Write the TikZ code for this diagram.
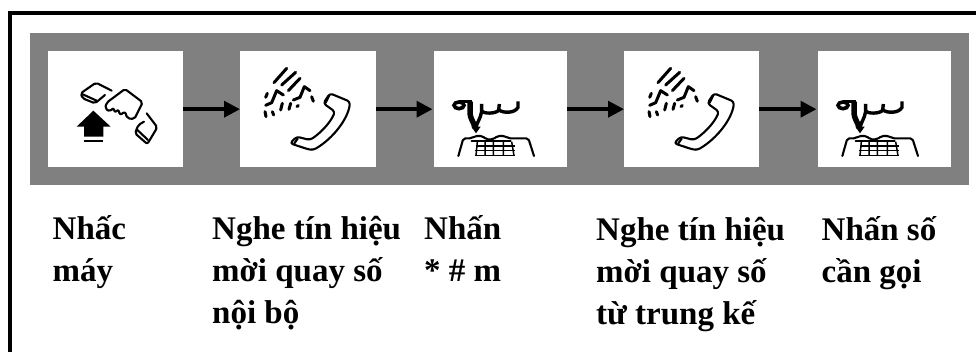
\documentclass[tikz,border=0pt]{standalone}
\usepackage{fontspec}
\setmainfont{Liberation Serif}
\usetikzlibrary{arrows.meta}
\definecolor{panelgray}{HTML}{808080}
\tikzset{
  panelbox/.style={fill=panelgray,draw=none,inner sep=0pt,minimum width=939pt,minimum height=152pt,anchor=north west},
  iconbox/.style={fill=white,draw=none,inner sep=0pt,minimum height=116pt,anchor=north west},
  flow/.style={line width=3.6pt,-{Triangle[length=16pt,width=16pt]}},
  steplabel/.style={anchor=north west,inner sep=0pt,align=left,font=\fontsize{33}{42}\selectfont\bfseries},
  ink/.style={line width=2.1pt,line join=round,line cap=round,black},
  inkthick/.style={line width=3pt,line join=round,line cap=round,black},
  inkgrid/.style={line width=1.5pt,black},
  pics/offhook/.style={code={
    \draw[ink,rounded corners=2pt] (125,62) -- (78,38) -- (32,70) -- (38,85) -- (75,100) -- (105,75);
    \draw[ink] (36,72) -- (80,92);
    \draw[ink,rounded corners=2pt] (165,57) -- (218,97) -- (193,147) -- (172,145) -- (165,125) -- (150,135) -- (145,118) -- (135,128) -- (130,113) -- (120,125) -- (105,115) -- (110,98) -- cycle;
    \draw[ink,rounded corners=2pt] (230,130) -- (262,172) -- (232,222) -- (195,190) -- (205,165) -- (222,155);
    \draw[ink] (200,178) -- (234,210);
    \fill (70,122) -- (122,170) -- (100,170) -- (100,200) -- (42,200) -- (42,170) -- (20,170) -- cycle;
    \fill (42,209) rectangle (100,216);
  }},
  pics/ringing/.style={code={
    \draw[ink,rounded corners=3pt] (225,100) -- (285,125) .. controls (280,175) and (235,235) .. (175,270) -- (160,268) -- (105,250) -- (125,230) -- (165,240) .. controls (195,220) and (225,190) .. (240,155) -- (205,130) -- cycle;
    \draw[ink] (222,108) -- (212,128);
    \draw[ink] (128,236) -- (118,250);
    \draw[inkthick] (57,68) -- (95,25);
    \draw[inkthick] (80,75) -- (122,37);
    \draw[inkthick] (100,92) -- (135,55);
    \draw[inkthick] (32,136) -- (50,128) -- (65,92) -- (85,105);
    \draw[inkthick] (115,120) -- (135,112) -- (148,80) -- (165,92);
    \draw[inkthick] (37,100) -- (32,112);
    \draw[inkthick] (30,155) -- (33,170);
    \draw[inkthick] (52,155) -- (56,165);
    \draw[inkthick] (82,130) -- (77,150);
    \draw[inkthick] (107,130) -- (102,148);
    \draw[inkthick] (130,136) -- (126,140);
    \draw[inkthick] (170,110) -- (175,124);
  }},
  pics/dialing/.style={code={
    \draw[line width=3.6pt,black] (57,46) ellipse (15 and 10);
    \draw[line width=3.4pt,black] (57,35) -- (96,35);
    \draw[line width=5.5pt,black] (90,35) -- (90,70) .. controls (91,85) and (100,95) .. (106,114);
    \draw[line width=3.4pt,line join=round,black] (125,42) -- (125,62) .. controls (128,72) and (170,72) .. (176,60) -- (178,42);
    \draw[line width=3.4pt,black] (177,60) .. controls (190,70) and (225,70) .. (234,52) -- (234,34);
    \draw[line width=3.4pt,black] (125,64) .. controls (122,85) and (112,95) .. (108,112);
    \fill (94,110) -- (122,110) -- (108,130) -- cycle;
    \draw[ink,rounded corners=2pt] (55,198) -- (70,145) -- (95,145) -- (105,138) -- (128,138) -- (138,148) -- (160,148) -- (172,138) -- (195,138) -- (205,145) -- (265,145) -- (282,198);
    \draw[ink] (95,152) -- (212,152);
    \draw[inkgrid] (110,168) -- (225,168) (106,182) -- (225,182) (104,197) -- (225,197);
    \draw[inkgrid] (112,155) -- (108,197) (135,155) -- (135,197) (160,155) -- (160,197) (190,155) -- (190,197) (215,155) -- (222,197);
  }}
}
\begin{document}
\begin{tikzpicture}[x=1pt,y=-1pt]
\useasboundingbox (0,0) rectangle (976,352);
\fill[white] (0,0) rectangle (976,352);
\draw[line width=4pt,black] (10,352) -- (10,13.5) -- (976,13.5);
\node[panelbox] (panel) at (30,33) {};
\node[iconbox,minimum width=135pt] (b1) at (48,51) {};
\node[iconbox,minimum width=136pt] (b2) at (240,51) {};
\node[iconbox,minimum width=133pt] (b3) at (434,51) {};
\node[iconbox,minimum width=135pt] (b4) at (624,51) {};
\node[iconbox,minimum width=133pt] (b5) at (818,51) {};
\draw[flow] (b1.east) -- (b2.west);
\draw[flow,shorten >=1.5pt] (b2.east) -- (b3.west);
\draw[flow] (b3.east) -- (b4.west);
\draw[flow,shorten >=1.5pt] (b4.east) -- (b5.west);
\pic[scale=1/3] at ([shift={(22,19)}]b1.north west) {offhook};
\pic[scale=1/3] at ([shift={(15,9)}]b2.north west) {ringing};
\pic[scale=1/3] at ([shift={(6,39)}]b3.north west) {dialing};
\pic[scale=1/3] at ([shift={(15,9)}]b4.north west) {ringing};
\pic[scale=1/3] at ([shift={(6,39)}]b5.north west) {dialing};
\node[steplabel] (t1) at (52.5,209) {\rule{0pt}{30pt}Nhấc\\máy};
\node[steplabel] (t2) at (212,209) {\rule{0pt}{30pt}Nghe tín hiệu\\mời quay số\\nội bộ};
\node[steplabel] (t3) at (424,209) {\rule{0pt}{30pt}Nhấn\\* \# m};
\node[steplabel] (t4) at (596,210) {\rule{0pt}{30pt}Nghe tín hiệu\\mời quay số\\từ trung kế};
\node[steplabel] (t5) at (821.5,210) {\rule{0pt}{30pt}Nhấn số\\cần gọi};
\end{tikzpicture}
\end{document}
